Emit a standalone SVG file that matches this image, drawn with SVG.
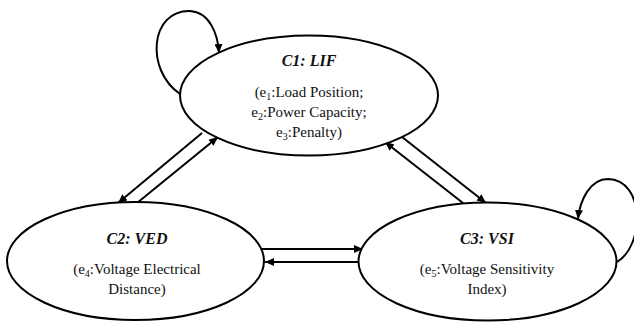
<svg xmlns="http://www.w3.org/2000/svg" width="634" height="322" viewBox="0 0 634 322">
<style>
.node{fill:#fff;stroke:#000;stroke-width:2}
.t{font-family:"Liberation Serif","Times New Roman",serif;font-size:15px;fill:#111;text-anchor:middle}
.h{font-weight:bold;font-style:italic;font-size:16px}
.e{fill:none;stroke:#000;stroke-width:2;marker-end:url(#ah)}
</style>
<defs>
<marker id="ah" markerUnits="userSpaceOnUse" markerWidth="10" markerHeight="8" refX="9" refY="4" orient="auto">
<path d="M0,0 L9,4 L0,8 Z" fill="#000"/>
</marker>
</defs>
<rect width="634" height="322" fill="#fff"/>
<g id="connectors">
<path class="e" d="M180 94 C145 70 150 10 190 11 C210 12 218 35 219 53"/>
<path class="e" d="M617 262 C645 245 645 180 608 179 C590 179 580 200 578 219"/>
<path class="e" d="M202 133 L118 203"/>
<path class="e" d="M137 203 L218 137"/>
<path class="e" d="M463 203 L385 142"/>
<path class="e" d="M402 137 L486 203"/>
<path class="e" d="M262 249 L363 249"/>
<path class="e" d="M358 262 L265 262"/>
</g>
<g id="c1">
<ellipse class="node" cx="309" cy="95.5" rx="129" ry="60"/>
<text class="t h" x="309" y="66">C1: LIF</text>
<text class="t" x="309" y="97">(e<tspan font-size="10" dy="3">1</tspan><tspan dy="-3">:Load Position;</tspan></text>
<text class="t" x="309" y="117">e<tspan font-size="10" dy="3">2</tspan><tspan dy="-3">:Power Capacity;</tspan></text>
<text class="t" x="309" y="137">e<tspan font-size="10" dy="3">3</tspan><tspan dy="-3">:Penalty)</tspan></text>
</g>
<g id="c2">
<ellipse class="node" cx="135.5" cy="261" rx="128.5" ry="59"/>
<text class="t h" x="137" y="244">C2: VED</text>
<text class="t" x="137" y="274">(e<tspan font-size="10" dy="3">4</tspan><tspan dy="-3">:Voltage Electrical</tspan></text>
<text class="t" x="137" y="294">Distance)</text>
</g>
<g id="c3">
<ellipse class="node" cx="487.5" cy="261.5" rx="129" ry="59"/>
<text class="t h" x="487" y="244">C3: VSI</text>
<text class="t" x="487" y="274">(e<tspan font-size="10" dy="3">5</tspan><tspan dy="-3">:Voltage Sensitivity</tspan></text>
<text class="t" x="487" y="294">Index)</text>
</g>
</svg>
